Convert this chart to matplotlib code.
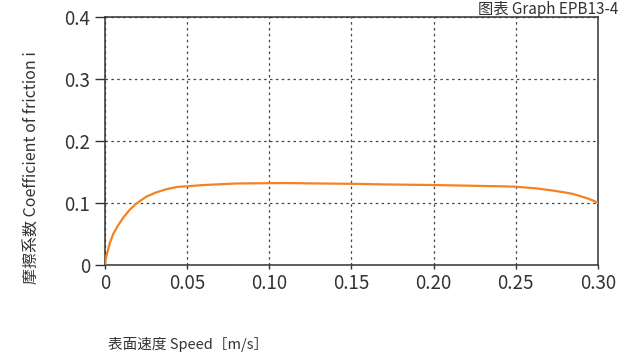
import matplotlib
matplotlib.use("Agg")
import matplotlib.pyplot as plt

plt.rcParams["font.family"] = ["Noto Sans CJK JP", "DejaVu Sans"]

# friction curve
speed = [0.0, 0.0006, 0.0014, 0.003, 0.005, 0.008, 0.011, 0.015, 0.019, 0.025, 0.031,
         0.037, 0.044, 0.05, 0.06, 0.08, 0.10, 0.11, 0.13, 0.15, 0.17, 0.20,
         0.22, 0.24, 0.25, 0.2627, 0.2728, 0.28, 0.285, 0.293, 0.297, 0.30]
friction = [0.0, 0.011, 0.020, 0.036, 0.050, 0.064, 0.076, 0.089, 0.099, 0.110, 0.117,
            0.122, 0.126, 0.127, 0.129, 0.1315, 0.132, 0.1322, 0.1315, 0.131, 0.130, 0.129,
            0.128, 0.127, 0.1263, 0.1235, 0.120, 0.117, 0.1145, 0.108, 0.104, 0.100]

xticks = [0, 0.05, 0.10, 0.15, 0.20, 0.25, 0.30]
xticklabels = ["0", "0.05", "0.10", "0.15", "0.20", "0.25", "0.30"]
yticks = [0, 0.1, 0.2, 0.3, 0.4]
yticklabels = ["0", "0.1", "0.2", "0.3", "0.4"]

ink = "#333333"

fig = plt.figure(figsize=(6.28, 3.59), dpi=100)
ax = fig.add_axes([0.1672, 0.2618, 0.7850, 0.6908])

ax.plot(speed, friction, color="#f58220", lw=1.6, zorder=3)

ax.set_xlim(0, 0.30)
ax.set_ylim(0, 0.4)
ax.set_xticks(xticks)
ax.set_xticklabels(xticklabels)
ax.set_yticks(yticks)
ax.set_yticklabels(yticklabels)
ax.tick_params(axis="y", length=7.5, width=1.0, color=ink, labelcolor=ink,
               labelsize=13.5, pad=3)
ax.tick_params(axis="x", length=3, width=1.0, color=ink, labelcolor=ink,
               labelsize=13.5, pad=3)
ax.grid(True, color="#444444", ls=(0, (2, 2.7)), lw=0.9)
for s in ax.spines.values():
    s.set_color(ink)
    s.set_linewidth(1.1)

fig.text(0.051, 0.532, "摩擦系数 Coefficient of friction i", rotation=90,
         ha="center", va="center", fontsize=11.5, color=ink)
fig.text(0.172, 0.039, "表面速度 Speed［m/s］", ha="left", va="center",
         fontsize=10.5, color=ink)
fig.text(0.984, 0.998, "图表 Graph EPB13-4", ha="right", va="top",
         fontsize=11, color=ink)

fig.savefig("out.png")
